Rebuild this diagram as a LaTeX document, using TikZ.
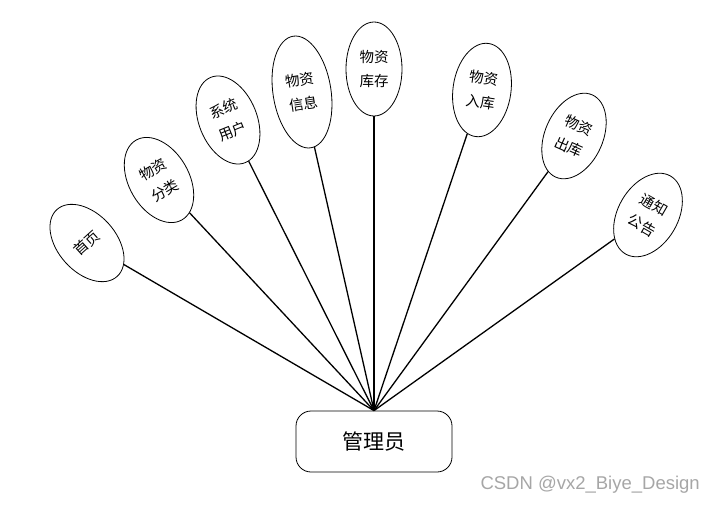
\documentclass[tikz,border=0pt]{standalone}
\usepackage{fontspec}
\newfontfamily\cjk{Noto Sans CJK SC}
\newfontfamily\wmfont{Liberation Sans}
\usetikzlibrary{shapes.geometric}

\begin{document}
\begin{tikzpicture}[
  x=1pt, y=-1pt,
  every node/.style={font=\cjk\fontsize{14.5pt}{24pt}\selectfont},
  func/.style={draw, ellipse, line width=0.8pt, inner sep=0pt, align=center},
  role/.style={draw, rounded corners=15pt, line width=0.8pt, minimum width=156pt, minimum height=61pt, font=\cjk\fontsize{21pt}{24pt}\selectfont},
  link/.style={line width=1.3pt}]

\useasboundingbox (0,0) rectangle (715,504);

\node[role] (admin) at (374,441.5) {管理员};

\node[func, rotate=42, minimum width=58pt, minimum height=90pt] (shouye) at (87,243) {首页};
\node[func, rotate=30, minimum width=60pt, minimum height=92pt] (fenlei) at (159,180) {物资\\分类};
\node[func, rotate=22, minimum width=58pt, minimum height=92pt] (yonghu) at (228,120) {系统\\用户};
\node[func, rotate=9, minimum width=58pt, minimum height=113pt] (xinxi) at (302,92) {物资\\信息};
\node[func, minimum width=56pt, minimum height=94pt] (kucun) at (374,69) {物资\\库存};
\node[func, rotate=-8, minimum width=58pt, minimum height=94pt] (ruku) at (482,90) {物资\\入库};
\node[func, rotate=-24, minimum width=58pt, minimum height=90pt] (chuku) at (574,136) {物资\\出库};
\node[func, rotate=-30, minimum width=60pt, minimum height=90pt] (gonggao) at (648,215) {通知\\公告};

\node[font=\wmfont\fontsize{18.5pt}{20pt}\selectfont, text=gray!70, anchor=east, inner sep=0pt] (mark) at (700,485) {CSDN @vx2\_Biye\_Design};

\draw[link] (admin.north) -- (shouye);
\draw[link] (admin.north) -- (fenlei);
\draw[link] (admin.north) -- (yonghu);
\draw[link] (admin.north) -- (xinxi);
\draw[link] (admin.north) -- (kucun);
\draw[link] (admin.north) -- (ruku);
\draw[link] (admin.north) -- (chuku);
\draw[link] (admin.north) -- (gonggao);
\end{tikzpicture}
\end{document}
